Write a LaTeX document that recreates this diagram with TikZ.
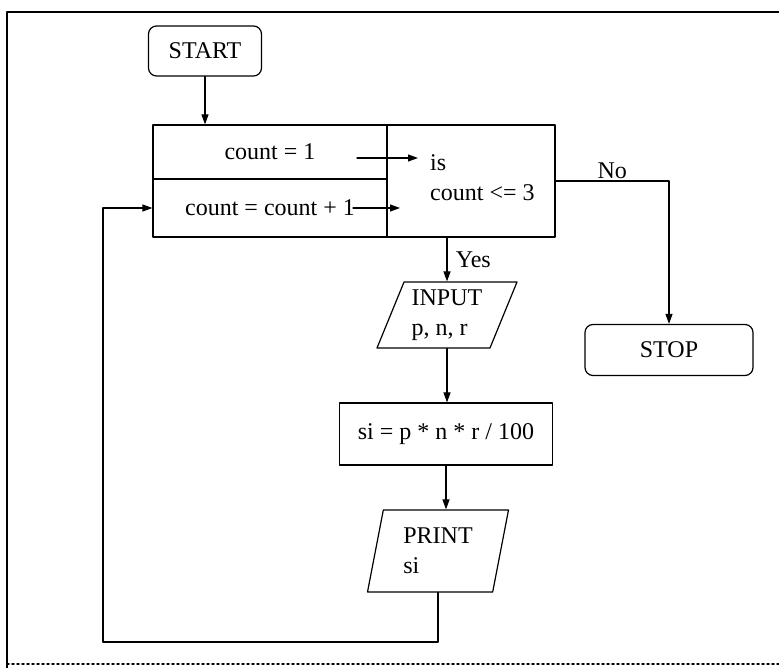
\documentclass[tikz,border=0pt]{standalone}
\usepackage{fontspec}
\setmainfont{Liberation Serif}
\usetikzlibrary{arrows.meta,shapes.geometric}

\begin{document}
\begin{tikzpicture}[x=1pt,y=-1pt,line join=round,line cap=round,font=\fontsize{24}{30}\selectfont]
\tikzstyle{terminal} = [draw,line width=1.2pt,rounded corners=8pt,inner sep=0pt]
\tikzstyle{cell} = [draw,line width=1.2pt,inner sep=0pt]
\tikzstyle{io} = [draw,line width=1.2pt,trapezium,trapezium stretches body,align=left,inner sep=0pt]
\tikzstyle{flow} = [line width=1.1pt,-{Triangle[length=10pt,width=7pt]}]

\useasboundingbox (0,0) rectangle (779,668);

% page frame
\draw[line width=1.5pt] (779,12) -- (7,12) -- (7,668);
\draw[line width=1.5pt,dash pattern=on 2pt off 3pt] (7,664) -- (779,664);

\node[terminal,minimum width=113pt,minimum height=50pt] (start) at (205,51) {START};

\node[cell,minimum width=234pt,minimum height=54pt] (init) at (270,152) {count = 1};
\node[cell,minimum width=234pt,minimum height=58pt] (incr) at (270,208) {count = count + 1};
\node[cell,minimum width=168pt,minimum height=112pt] (test) at (471,181) {};
\node[align=left,anchor=west,inner sep=0pt] (testtxt) at (430,178) {is\\count <= 3};

\node[io,trapezium left angle=62,trapezium right angle=118,minimum width=140pt,minimum height=66pt] (input) at (447,315) {INPUT\\p, n, r};
\node[cell,minimum width=213pt,minimum height=62pt] (si) at (446,434) {si = p * n * r / 100};
\node[io,trapezium left angle=71,trapezium right angle=109,minimum width=141pt,minimum height=82pt] (print) at (438,551) {PRINT\\si};

\node[terminal,minimum width=168pt,minimum height=51pt] (stop) at (669,350) {STOP};

\coordinate (a1) at (357,158);
\coordinate (a2) at (418,158);
\coordinate (b1) at (353,208);
\coordinate (b2) at (400,208);
\coordinate (loopL) at (103,642);
\coordinate (loopT) at (103,208);

\draw[flow] (start.south) -- (start.south |- init.north);
\draw[flow] (a1) -- (a2);
\draw[flow] (b1) -- (b2);
\draw[flow] (test.east) -| (stop.north) node[pos=0.25,above=-2pt] (no) {No};
\draw[flow] (test.south -| input.north) -- (input.north) node[midway,right=5pt] (yes) {Yes};
\draw[flow] (input.south) -- (input.south |- si.north);
\draw[flow] (si.south) -- (si.south |- print.north);
\draw[flow] (print.south) |- (loopL) -- (loopT) -- (incr.west);

\end{tikzpicture}
\end{document}
